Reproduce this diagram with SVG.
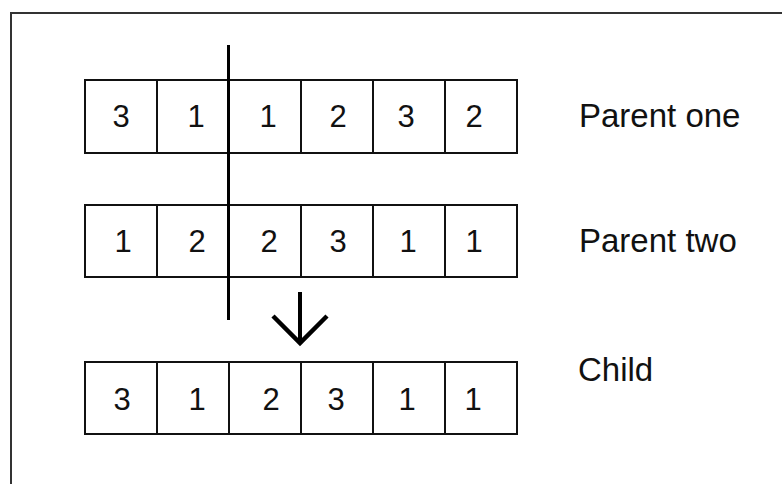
<svg xmlns="http://www.w3.org/2000/svg" width="782" height="484" viewBox="0 0 782 484">
<style>
.cell{fill:#fff;stroke:#111;stroke-width:2}
.d{font-family:"Liberation Sans",Arial,sans-serif;font-size:31px;fill:#111;text-anchor:middle}
.lbl{font-family:"Liberation Sans",Arial,sans-serif;font-size:33px;fill:#111}
</style>
<rect x="0" y="0" width="782" height="484" fill="#fff"/>
<rect x="11" y="13" width="800" height="500" fill="none" stroke="#333" stroke-width="2"/>
<g id="parent-one">
<rect class="cell" x="85" y="80" width="72" height="73"/>
<rect class="cell" x="157" y="80" width="72" height="73"/>
<rect class="cell" x="229" y="80" width="72" height="73"/>
<rect class="cell" x="301" y="80" width="72" height="73"/>
<rect class="cell" x="373" y="80" width="72" height="73"/>
<rect class="cell" x="445" y="80" width="72" height="73"/>
<text class="d" x="121" y="127">3</text>
<text class="d" x="196" y="127">1</text>
<text class="d" x="268" y="127">1</text>
<text class="d" x="338" y="127">2</text>
<text class="d" x="406" y="127">3</text>
<text class="d" x="474" y="127">2</text>
<text class="lbl" x="579" y="127">Parent one</text>
</g>
<g id="parent-two">
<rect class="cell" x="85" y="205" width="72" height="72"/>
<rect class="cell" x="157" y="205" width="72" height="72"/>
<rect class="cell" x="229" y="205" width="72" height="72"/>
<rect class="cell" x="301" y="205" width="72" height="72"/>
<rect class="cell" x="373" y="205" width="72" height="72"/>
<rect class="cell" x="445" y="205" width="72" height="72"/>
<text class="d" x="123" y="252">1</text>
<text class="d" x="197" y="252">2</text>
<text class="d" x="269" y="252">2</text>
<text class="d" x="338" y="252">3</text>
<text class="d" x="408" y="252">1</text>
<text class="d" x="474" y="252">1</text>
<text class="lbl" x="579" y="252">Parent two</text>
</g>
<g id="child">
<rect class="cell" x="85" y="362" width="72" height="72"/>
<rect class="cell" x="157" y="362" width="72" height="72"/>
<rect class="cell" x="229" y="362" width="72" height="72"/>
<rect class="cell" x="301" y="362" width="72" height="72"/>
<rect class="cell" x="373" y="362" width="72" height="72"/>
<rect class="cell" x="445" y="362" width="72" height="72"/>
<text class="d" x="122" y="410">3</text>
<text class="d" x="197" y="410">1</text>
<text class="d" x="271" y="410">2</text>
<text class="d" x="336" y="410">3</text>
<text class="d" x="407" y="410">1</text>
<text class="d" x="473" y="410">1</text>
<text class="lbl" x="578" y="381">Child</text>
</g>
<g id="connectors">
<line x1="228.5" y1="45" x2="228.5" y2="320" stroke="#000" stroke-width="3"/>
<line x1="300" y1="292" x2="300" y2="343" stroke="#000" stroke-width="4"/>
<polyline points="273,316 300,343 327,316" fill="none" stroke="#000" stroke-width="4.5"/>
</g>
</svg>
